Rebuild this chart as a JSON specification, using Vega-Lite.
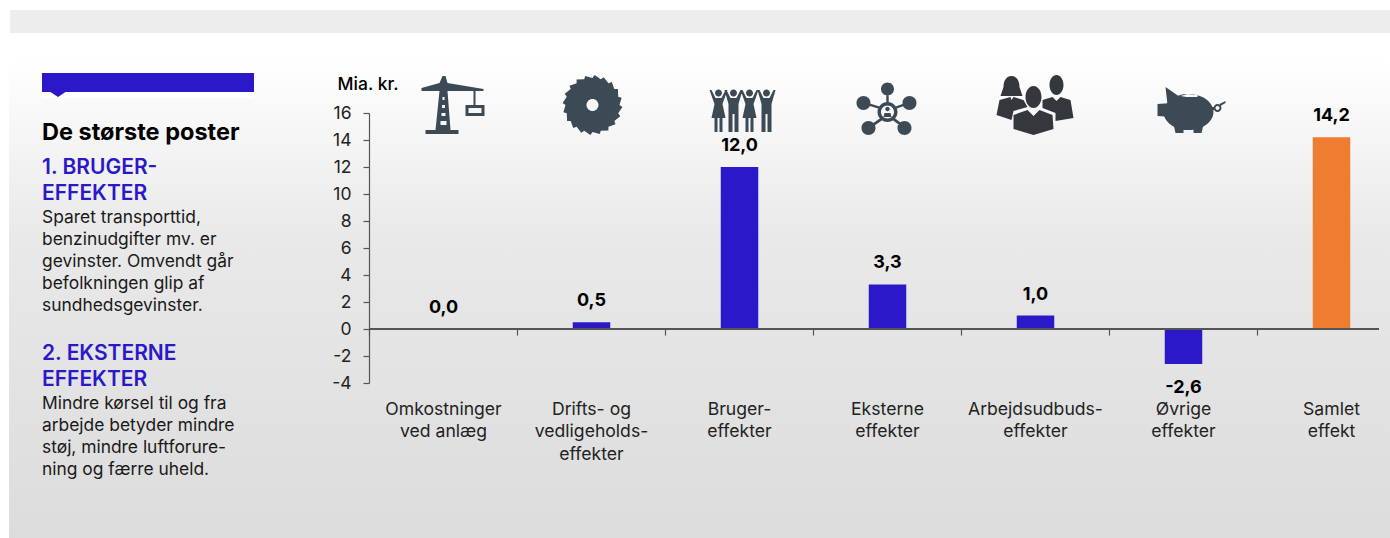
{
"$schema":"https://vega.github.io/schema/vega-lite/v6.json",
"width":1390,"height":538,"padding":0,"autosize":{"type":"none"},"background":"white",
"config":{"view":{"stroke":null},"font":"Inter"},
"datasets":{
"bars":[
{"category":"Omkostninger\nved anlæg","value":0.0,"label":"0,0","group":"Poster"},
{"category":"Drifts- og\nvedligeholds-\neffekter","value":0.5,"label":"0,5","group":"Poster"},
{"category":"Bruger-\neffekter","value":12.0,"label":"12,0","group":"Poster"},
{"category":"Eksterne\neffekter","value":3.3,"label":"3,3","group":"Poster"},
{"category":"Arbejdsudbuds-\neffekter","value":1.0,"label":"1,0","group":"Poster"},
{"category":"Øvrige\neffekter","value":-2.6,"label":"-2,6","group":"Poster"},
{"category":"Samlet\neffekt","value":14.2,"label":"14,2","group":"Samlet"}],
"notes":[
{"block":"title","text":"De største poster"},
{"block":"head1","text":"1. BRUGER-\nEFFEKTER"},
{"block":"body1","text":"Sparet transporttid,\nbenzinudgifter mv. er\ngevinster. Omvendt går\nbefolkningen glip af\nsundhedsgevinster."},
{"block":"head2","text":"2. EKSTERNE\nEFFEKTER"},
{"block":"body2","text":"Mindre kørsel til og fra\narbejde betyder mindre\nstøj, mindre luftforure-\nning og færre uheld."}]
},
"data":{"name":"bars"},
"encoding":{
"x":{"field":"category","type":"nominal","sort":null,"title":null,
"scale":{"range":[369.5,1405.5],"paddingInner":0,"paddingOuter":0},
"axis":{"orient":"bottom","offset":-209,"domain":false,"bandPosition":0,"tickExtra":false,"tickSize":6,"tickColor":"#555555","tickWidth":1.2,"labelAngle":0,"labelPadding":65,"labelFontSize":17.6,"labelColor":"#222222","labelFont":"Inter","labelLineHeight":22.5,"labelLimit":300,"labelOverlap":false,"labelBound":false,"labelFlush":false,"labelBaseline":"top","labelExpr":"split(datum.label,'\\n')","zindex":1}},
"y":{"field":"value","type":"quantitative",
"scale":{"domain":[-4,16],"range":[383,113],"nice":false,"zero":false},
"axis":{"orient":"left","offset":-369,"values":[-4,-2,0,2,4,6,8,10,12,14,16],"grid":false,"domainColor":"#555555","domainWidth":1.2,"tickColor":"#555555","tickWidth":1.2,"tickSize":6,"labelPadding":12,"labelFontSize":17.5,"labelColor":"#222222","labelExpr":"replace(datum.label,'−','-')","labelOverlap":false,"labelBound":false,"labelFlush":false,"title":"Mia. kr.","titleAngle":0,"titleX":-1.5,"titleY":84,"titleAlign":"center","titleBaseline":"middle","titleFontSize":17.5,"titleFontWeight":500,"titleColor":"#000000","zindex":1}}
},
"layer":[
{"data":{"values":[{"part":"gradient"}]},"mark":{"type":"rect","fill":{"gradient":"linear","x1":0,"y1":0,"x2":0,"y2":1,"stops":[{"offset":0,"color":"#ffffff"},{"offset":0.05,"color":"#ffffff"},{"offset":0.4,"color":"#e9e9e9"},{"offset":1,"color":"#dcdcdc"}]}},"encoding":{"x":{"value":9},"x2":{"value":1390},"y":{"value":33},"y2":{"value":538}}},
{"data":{"values":[{"part":"topband"}]},"mark":{"type":"rect","fill":"#ededed"},"encoding":{"x":{"value":10},"x2":{"value":1390},"y":{"value":10},"y2":{"value":33}}},
{"data":{"values":[{"part":"strip"}]},"mark":{"type":"rect","fill":"#ffffff"},"encoding":{"x":{"value":42},"x2":{"value":254},"y":{"value":92},"y2":{"value":98}}},
{"data":{"values":[{"part":"banner"}]},"mark":{"type":"rect","fill":"#2b19c9"},"encoding":{"x":{"value":42},"x2":{"value":254},"y":{"value":73},"y2":{"value":92}}},
{"data":{"values":[{"part":"pointer"}]},"mark":{"type":"point","filled":true,"opacity":1,"fill":"#2b19c9","strokeWidth":0,"shape":"M-9,0 L9,0 L0,6Z","size":4},"encoding":{"x":{"value":58},"y":{"value":91}}},
{"mark":{"type":"bar","size":37.5},"encoding":{"color":{"field":"group","type":"nominal","legend":null,"scale":{"domain":["Poster","Samlet"],"range":["#2b19c9","#ef7d30"]}}}},
{"mark":{"type":"rule","color":"#555555","strokeWidth":1.4},"encoding":{"x":{"value":369},"x2":{"value":1379},"y":{"datum":0}}},
{"transform":[{"filter":"datum.value>=0"}],"mark":{"type":"text","font":"Inter","fontSize":18,"fontWeight":700,"color":"#000000","dy":-21,"baseline":"middle"},"encoding":{"text":{"field":"label"}}},
{"transform":[{"filter":"datum.value<0"}],"mark":{"type":"text","font":"Inter","fontSize":18,"fontWeight":700,"color":"#000000","dy":24,"baseline":"middle"},"encoding":{"text":{"field":"label"}}},
{"transform":[{"filter":"datum.group=='Poster'"}],"mark":{"type":"point","filled":true,"opacity":1,"strokeWidth":0},
"encoding":{"y":{"value":105},"size":{"value":4},
"color":{"condition":{"test":"indexof(datum.category,'Arbejd')==0","value":"#34383c"},"value":"#3c4a55"},
"shape":{"field":"category","type":"nominal","legend":null,"sort":null,"scale":{"domain":["Omkostninger\nved anlæg","Drifts- og\nvedligeholds-\neffekter","Bruger-\neffekter","Eksterne\neffekter","Arbejdsudbuds-\neffekter","Øvrige\neffekter"],"range":[
"M-22,-17 L-4,-22 L-1,-29 L2,-29 L4,-22 L40,-16 L40,-14 L-22,-14Z M-4,-14 L4,-14 L7,25 L-8,25Z M-1,-8 L-1,-5 L1,-5 L1,-8Z M-1.5,0 L-1.5,3 L1.5,3 L1.5,0Z M-2,8 L-2,11 L2,11 L2,8Z M-3,16 L-3,20 L3,20 L3,16Z M-18,25 L15,25 L15,29 L-18,29Z M30,-14 L32,-14 L32,0 L30,0Z M22,0 L41,0 L41,11 L22,11Z M25,3 L25,8 L38,8 L38,3Z",
"M28,0 L30.9,2.1 L26.7,8.3 L28.8,11.3 L22.8,15.9 L24,19.3 L16.9,21.8 L16.9,25.4 L9.3,25.7 L8.3,29.1 L1,27 L-1.1,29.9 L-7.3,25.7 L-10.3,27.8 L-14.9,21.8 L-18.3,23 L-20.8,15.9 L-24.4,15.9 L-24.7,8.3 L-28.1,7.3 L-26,0 L-28.9,-2.1 L-24.7,-8.3 L-26.8,-11.3 L-20.8,-15.9 L-22,-19.3 L-14.9,-21.8 L-14.9,-25.4 L-7.3,-25.7 L-6.3,-29.1 L1,-27 L3.1,-29.9 L9.3,-25.7 L12.3,-27.8 L16.9,-21.8 L20.3,-23 L22.8,-15.9 L26.4,-15.9 L26.7,-8.3 L30.1,-7.3Z M7,0 A6,6 0 1 0 -5,0 A6,6 0 1 0 7,0Z",
"M-30,-15 L-28,-15 L-24,-7 L-18,-7 L-14,-15 L-12,-15 L-17,-1 L-14,13 L-17,13 L-17,27 L-20,27 L-20,13 L-22,13 L-22,27 L-25,27 L-25,13 L-28,13 L-25,-1Z M-17.5,-12 A3.5,3.5 0 1 1 -24.5,-12 A3.5,3.5 0 1 1 -17.5,-12Z M-15,-15 L-13,-15 L-9,-7 L-3,-7 L1,-15 L3,-15 L-1,-1 L-1,27 L-5,27 L-5,9 L-7,9 L-7,27 L-11,27 L-11,-1Z M-2.5,-12 A3.5,3.5 0 1 1 -9.5,-12 A3.5,3.5 0 1 1 -2.5,-12Z M1,-15 L3,-15 L7,-7 L13,-7 L17,-15 L19,-15 L14,-1 L17,13 L14,13 L14,27 L11,27 L11,13 L9,13 L9,27 L6,27 L6,13 L3,13 L6,-1Z M13.5,-12 A3.5,3.5 0 1 1 6.5,-12 A3.5,3.5 0 1 1 13.5,-12Z M18,-15 L20,-15 L24,-7 L30,-7 L34,-15 L36,-15 L32,-1 L32,27 L28,27 L28,9 L26,9 L26,27 L22,27 L22,-1Z M30.5,-12 A3.5,3.5 0 1 1 23.5,-12 A3.5,3.5 0 1 1 30.5,-12Z",
"M10,7 A10,10 0 1 1 -10,7 A10,10 0 1 1 10,7Z M6.5,7 A6.5,6.5 0 1 0 -6.5,7 A6.5,6.5 0 1 0 6.5,7Z M2.2,4 A2.2,2.2 0 1 1 -2.2,4 A2.2,2.2 0 1 1 2.2,4Z M-4,12 L-3,8 L3,8 L4,12Z M-1.2,-16 L1.2,-16 L1.2,-2 L-1.2,-2Z M-24,-3.5 L-8,1.5 L-8,4 L-24,-1Z M8,1.5 L22,-3.5 L22,-1 L8,4Z M-7,13 L-5,15 L-18,24 L-20,22Z M7,13 L19,22 L17,24 L5,15Z M6.5,-16 A6.5,6.5 0 1 1 -6.5,-16 A6.5,6.5 0 1 1 6.5,-16Z M-17,-2 A7,7 0 1 1 -31,-2 A7,7 0 1 1 -17,-2Z M29,-2 A7,7 0 1 1 15,-2 A7,7 0 1 1 29,-2Z M-12,23 A7,7 0 1 1 -26,23 A7,7 0 1 1 -12,23Z M24,23 A7,7 0 1 1 10,23 A7,7 0 1 1 24,23Z",
"M-24,-29 C-18,-29 -16,-23 -16,-18 L-13,-9 L-35,-9 L-32,-18 C-32,-23 -30,-29 -24,-29Z M-36,-5 L-25,-8 L-24,-5 L-22,-8 L-12,-5 L-8,2 L-22,6 L-24,15 L-39,10Z M28,-20 A7,10 0 1 1 14,-20 A7,10 0 1 1 28,-20Z M7,-5 L17,-8 L21,-4 L25,-8 L35,-5 L38,13 L20,16 L20,8 L7,3Z M6,-8 A8,11 0 1 1 -10,-8 A8,11 0 1 1 6,-8Z M-22,10 L-8,5 L-2,11 L4,5 L17,10 L18,24 L-2,30 L-22,24Z",
"M30,7 A25,18 0 1 1 -20,7 A25,18 0 1 1 30,7Z M-3,-9 L3,-8 L14,-8 L14,-10 L4,-11Z M-18,-18 L-5,-9 L-16,0Z M-26,-1 L-12,-2 L-12,12 L-26,11Z M-11,15 L0,15 L0,28 L-8,28Z M10,15 L21,15 L18,28 L10,28Z M38,3 A4,4 0 1 1 30,3 A4,4 0 1 1 38,3Z M36,3 A2,2 0 1 0 32,3 A2,2 0 1 0 36,3Z M36,-1 L42,-4 L42,-2 L37,1Z M28,2 L31,2 L31,5 L28,5Z"
]}}}},
{"data":{"name":"notes"},"transform":[{"filter":"datum.block=='title'"}],"mark":{"type":"text","font":"Inter","fontSize":23.5,"fontWeight":700,"color":"#000000","align":"left","baseline":"alphabetic"},"encoding":{"x":{"value":42},"y":{"value":140},"text":{"field":"text"}}},
{"data":{"name":"notes"},"transform":[{"filter":"datum.block=='head1'"}],"mark":{"type":"text","font":"Inter","fontSize":21,"fontWeight":600,"color":"#2b19c9","align":"left","baseline":"alphabetic","lineBreak":"\n","lineHeight":26},"encoding":{"x":{"value":42},"y":{"value":174},"text":{"field":"text"}}},
{"data":{"name":"notes"},"transform":[{"filter":"datum.block=='head2'"}],"mark":{"type":"text","font":"Inter","fontSize":21,"fontWeight":600,"color":"#2b19c9","align":"left","baseline":"alphabetic","lineBreak":"\n","lineHeight":26},"encoding":{"x":{"value":42},"y":{"value":360},"text":{"field":"text"}}},
{"data":{"name":"notes"},"transform":[{"filter":"datum.block=='body1'"}],"mark":{"type":"text","font":"Inter","fontSize":17.4,"color":"#1a1a1a","align":"left","baseline":"alphabetic","lineBreak":"\n","lineHeight":22},"encoding":{"x":{"value":42},"y":{"value":223},"text":{"field":"text"}}},
{"data":{"name":"notes"},"transform":[{"filter":"datum.block=='body2'"}],"mark":{"type":"text","font":"Inter","fontSize":17.4,"color":"#1a1a1a","align":"left","baseline":"alphabetic","lineBreak":"\n","lineHeight":22},"encoding":{"x":{"value":42},"y":{"value":409},"text":{"field":"text"}}}
]
}
